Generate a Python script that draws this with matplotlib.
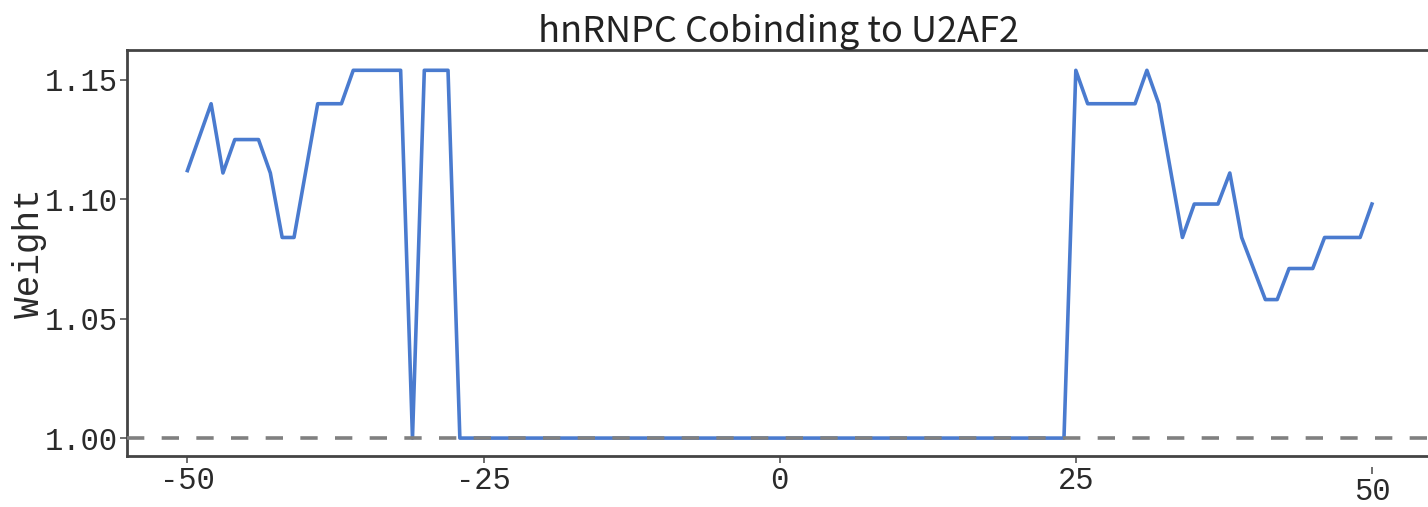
import matplotlib
matplotlib.use('Agg')
import matplotlib.pyplot as plt
import matplotlib.transforms as mtransforms
import numpy as np

# ====== data ======
positions = np.arange(-50, 51)
weights_left = [
    1.112, 1.126, 1.140, 1.111, 1.125, 1.125, 1.125, 1.111, 1.084, 1.084,   # -50 .. -41
    1.112, 1.140, 1.140, 1.140, 1.154, 1.154, 1.154, 1.154, 1.154, 1.000,   # -40 .. -31
    1.154, 1.154, 1.154,                                                     # -30 .. -28
]
weights_mid = [1.000] * 52                                                   # -27 .. 24
weights_right = [
    1.154, 1.140, 1.140, 1.140, 1.140, 1.140, 1.154, 1.140, 1.112, 1.084,   # 25 .. 34
    1.098, 1.098, 1.098, 1.111, 1.084, 1.071, 1.058, 1.058, 1.071, 1.071,   # 35 .. 44
    1.071, 1.084, 1.084, 1.084, 1.084, 1.098,                               # 45 .. 50
]
weights = weights_left + weights_mid + weights_right
baseline = 1.0
x_ticks = [-50, -25, 0, 25, 50]
y_ticks = [1.00, 1.05, 1.10, 1.15]
title = 'hnRNPC Cobinding to U2AF2'
y_label = 'Weight'

# ====== plot ======
fig = plt.figure(figsize=(14.28, 5.07), dpi=100)
ax = fig.add_axes([127 / 1428, 51 / 507, 1303 / 1428, 406 / 507])

ax.plot(positions, weights, color='#4a7bcf', lw=2.6, zorder=2)
ax.axhline(baseline, color='#808080', lw=2.6, linestyle=(0, (4.8, 4.8)), zorder=3)

ax.set_xlim(-55.1, 54.9)
ax.set_ylim(0.9925, 1.1625)
ax.set_xticks(x_ticks)
ax.set_yticks(y_ticks)
ax.set_xticklabels([str(v) for v in x_ticks])
ax.set_yticklabels([f'{v:.2f}' for v in y_ticks])

mono = ['Liberation Mono', 'DejaVu Sans Mono']
for lab in ax.get_xticklabels() + ax.get_yticklabels():
    lab.set_fontfamily(mono)
    lab.set_fontsize(22)
    lab.set_color('#2a2a2a')
ax.tick_params(axis='both', length=5, width=1.2, color='#555555', pad=2)

for side in ['left', 'bottom', 'top']:
    ax.spines[side].set_color('#444444')
    ax.spines[side].set_linewidth(2)
ax.spines['right'].set_visible(False)

# the last x tick sits a little lower in the original
last = ax.xaxis.get_major_ticks()[-1]
shift = mtransforms.ScaledTranslation(0, -11 / 100, fig.dpi_scale_trans)
last.label1.set_transform(last.label1.get_transform() + shift)
last.tick1line.set_transform(last.tick1line.get_transform() + shift)

ax.set_ylabel(y_label, family=mono, fontsize=26, labelpad=-2, color='#2a2a2a')
ax.set_title(title, family=['Noto Sans CJK SC', 'DejaVu Sans'], fontsize=26, pad=3,
             color='#222222')

fig.savefig('out.png', dpi=100)
